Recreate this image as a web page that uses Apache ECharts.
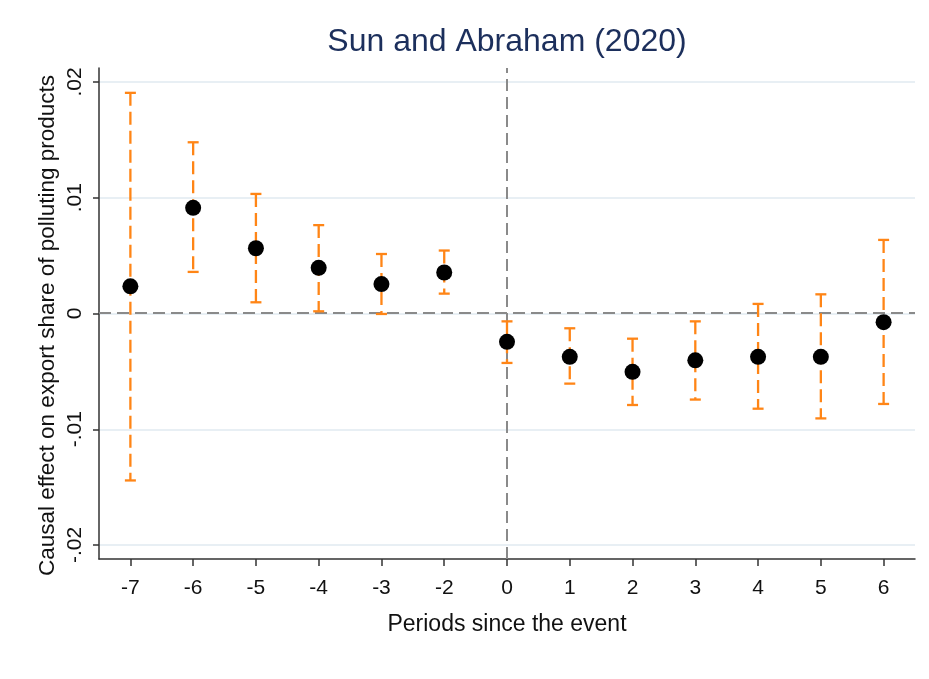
<!DOCTYPE html>
<html>
<head>
<meta charset="utf-8">
<script src="https://cdn.jsdelivr.net/npm/echarts@6/dist/echarts.min.js"></script>
<style>
html,body{margin:0;padding:0;background:#fff;}
#chart{width:929px;height:679px;}
</style>
</head>
<body>
<div id="chart"></div>
<script>
var categories = ['-7','-6','-5','-4','-3','-2','0','1','2','3','4','5','6'];
var estimates = [0.0023, 0.0091, 0.0056, 0.0039, 0.0025, 0.0035, -0.0025, -0.0038, -0.0051, -0.0041, -0.0038, -0.0038, -0.0008];
var ciLower = [-0.0145, 0.00355, 0.00092, 0.00014, -0.00009, 0.00167, -0.00433, -0.00612, -0.00797, -0.0075, -0.00829, -0.00913, -0.00788];
var ciUpper = [0.01905, 0.01477, 0.0103, 0.0076, 0.0051, 0.0054, -0.00073, -0.00133, -0.00223, -0.00073, 0.00078, 0.00161, 0.00632];
var yTickValues = [-0.02, -0.01, 0, 0.01, 0.02];
var yTickLabels = ['-.02', '-.01', '0', '.01', '.02'];
var titleText = 'Sun and Abraham (2020)';
var xTitle = 'Periods since the event';
var yTitle = 'Causal effect on export share of polluting products';
var eventCategory = '0';

var orange = '#ff8516';
var font = 'Liberation Sans, Arial, sans-serif';

var pointData = categories.map(function(c, i){ return [i, estimates[i]]; });
var ciData = categories.map(function(c, i){ return [i, ciLower[i], ciUpper[i]]; });

var chart = echarts.init(document.getElementById('chart'), null, {renderer:'canvas'});
var option = {
  animation: false,
  backgroundColor: '#ffffff',
  title: {
    text: titleText,
    left: 507, textAlign: 'center', top: 26, padding: 0,
    textStyle: {fontFamily: font, fontSize: 32, fontWeight: 'normal', color: '#1c2f5c'}
  },
  grid: [
    {left: 99, right: 14, top: 68, bottom: 120},
    {left: 99, right: 14, top: 82, bottom: 134},
    {left: 99, right: 14, top: 80, bottom: 108}
  ],
  xAxis: [
    {
      gridIndex: 0, type: 'category', data: categories, boundaryGap: true,
      name: xTitle, nameLocation: 'middle', nameGap: 54,
      nameTextStyle: {fontFamily: font, fontSize: 23, color: '#111'},
      axisLine: {show: true, onZero: false, lineStyle: {color: '#333', width: 1.5}},
      axisTick: {show: true, alignWithLabel: true, length: 7, lineStyle: {color: '#333', width: 1.5}},
      axisLabel: {fontFamily: font, fontSize: 21, color: '#111', margin: 19},
      splitLine: {show: false}
    },
    {gridIndex: 1, type: 'category', data: categories, show: false},
    {gridIndex: 2, type: 'category', data: categories, show: false}
  ],
  yAxis: [
    {
      gridIndex: 0, type: 'value', min: -0.0213, max: 0.0212,
      axisLine: {show: true, onZero: false, lineStyle: {color: '#333', width: 1.5}},
      axisTick: {show: false}, axisLabel: {show: false}, splitLine: {show: false}
    },
    {
      gridIndex: 1, type: 'value', min: yTickValues[0], max: yTickValues[yTickValues.length-1], interval: 0.01,
      axisLine: {show: false},
      axisTick: {show: true, length: 6, lineStyle: {color: '#333', width: 1.5}},
      axisLabel: {
        fontFamily: font, fontSize: 21, color: '#111', rotate: 90, margin: 13,
        formatter: function(v){
          var best = 0;
          for (var i = 0; i < yTickValues.length; i++) {
            if (Math.abs(yTickValues[i] - v) < Math.abs(yTickValues[best] - v)) best = i;
          }
          return yTickLabels[best];
        }
      },
      splitLine: {show: true, lineStyle: {color: '#e0eaf1', width: 1.5}}
    },
    {
      gridIndex: 2, type: 'value', min: -1, max: 1,
      name: yTitle, nameLocation: 'middle', nameGap: 40, nameRotate: 90,
      nameTextStyle: {fontFamily: font, fontSize: 22.5, color: '#111'},
      axisLine: {show: false}, axisTick: {show: false}, axisLabel: {show: false}, splitLine: {show: false}
    }
  ],
  series: [
    {
      type: 'custom', xAxisIndex: 0, yAxisIndex: 0, data: ciData, z: 3,
      renderItem: function(params, api){
        var x = api.value(0);
        var pLo = api.coord([x, api.value(1)]);
        var pHi = api.coord([x, api.value(2)]);
        var half = 5.5;
        return {type: 'group', children: [
          {type: 'line', shape: {x1: pHi[0], y1: pHi[1], x2: pLo[0], y2: pLo[1]},
           style: {stroke: orange, lineWidth: 2.3, lineDash: [13, 6]}},
          {type: 'line', shape: {x1: pHi[0]-half, y1: pHi[1], x2: pHi[0]+half, y2: pHi[1]},
           style: {stroke: orange, lineWidth: 2.3}},
          {type: 'line', shape: {x1: pLo[0]-half, y1: pLo[1], x2: pLo[0]+half, y2: pLo[1]},
           style: {stroke: orange, lineWidth: 2.3}}
        ]};
      }
    },
    {
      type: 'scatter', xAxisIndex: 0, yAxisIndex: 0, data: pointData, z: 5,
      symbol: 'circle', symbolSize: 16,
      itemStyle: {color: '#000', opacity: 1},
      markLine: {
        silent: true, symbol: 'none', z: 2,
        label: {show: false},
        lineStyle: {color: '#8a8a8a', type: [12, 6], width: 2, opacity: 1},
        data: [{yAxis: 0}, {xAxis: categories.indexOf(eventCategory)}]
      }
    }
  ]
};
chart.setOption(option);
</script>
</body>
</html>
